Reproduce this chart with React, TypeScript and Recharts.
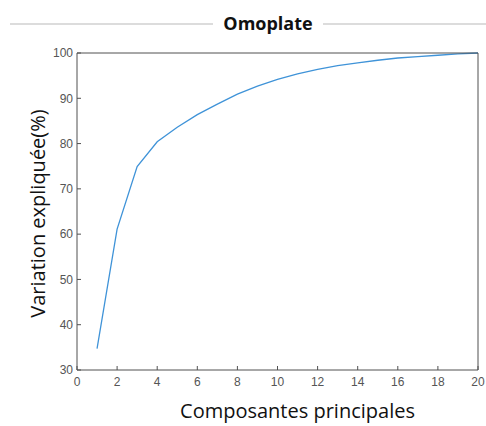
import React from 'react'
import { Label, Line, LineChart, XAxis, YAxis } from 'recharts'

const components = [1, 2, 3, 4, 5, 6, 7, 8, 9, 10, 11, 12, 13, 14, 15, 16, 17, 18, 19, 20]
const explained = [34.7, 61.1, 74.9, 80.4, 83.6, 86.4, 88.7, 90.9, 92.7, 94.2, 95.4, 96.4, 97.2, 97.8, 98.4, 98.9, 99.2, 99.5, 99.8, 100]
const xTicks = [0, 2, 4, 6, 8, 10, 12, 14, 16, 18, 20]
const yTicks = [30, 40, 50, 60, 70, 80, 90, 100]

const data = components.map((c, i) => ({ comp: c, val: explained[i] }))

const frame = '#505050'
const tickStyle = { fontSize: 12, fill: '#555555', fontFamily: 'Liberation Sans, Arial, sans-serif' }
const labelFont = 'Open Sans, sans-serif'

function App() {
  return (
    <div style={{ position: 'absolute', left: 0, top: 0, width: 486, height: 426, background: '#fff' }}>
      <div style={{ position: 'absolute', left: 10, top: 23, width: 203, height: 2, background: '#dcdcdc' }} />
      <div style={{ position: 'absolute', left: 323, top: 23, width: 163, height: 2, background: '#dcdcdc' }} />
      <div
        style={{
          position: 'absolute', left: 218, top: 10, width: 100, textAlign: 'center',
          fontFamily: labelFont, fontWeight: 'bold', fontSize: 18, lineHeight: '26px', color: '#111',
        }}
      >
        Omoplate
      </div>
      <LineChart width={486} height={426} data={data} margin={{ top: 52, right: 7, bottom: 55, left: 76 }}>
        <XAxis
          dataKey="comp"
          type="number"
          domain={[0, 20]}
          ticks={xTicks}
          height={1}
          stroke={frame}
          tickSize={-4}
          tickMargin={11}
          tick={tickStyle}
        >
          <Label value="Composantes principales" position="center" dx={20} dy={40}
            style={{ fontSize: 20, fill: '#111', fontFamily: labelFont }} />
        </XAxis>
        <XAxis xAxisId="top" orientation="top" dataKey="comp" type="number" domain={[0, 20]}
          ticks={xTicks} height={1} stroke={frame} tickSize={-4} tick={false} />
        <YAxis
          type="number"
          domain={[30, 100]}
          ticks={yTicks}
          width={1}
          stroke={frame}
          tickSize={-4}
          tickMargin={8}
          tick={tickStyle}
        >
          <Label value="Variation expliquée(%)" position="center" angle={-90} dx={-39} dy={2}
            style={{ fontSize: 20, fill: '#111', fontFamily: labelFont }} />
        </YAxis>
        <YAxis yAxisId="right" orientation="right" type="number" domain={[30, 100]}
          ticks={yTicks} width={1} stroke={frame} tickSize={-4} tick={false} />
        <Line
          dataKey="val"
          stroke="#3f93d8"
          strokeWidth={1.3}
          dot={false}
          type="linear"
          isAnimationActive={false}
        />
      </LineChart>
    </div>
  )
}

export default App
